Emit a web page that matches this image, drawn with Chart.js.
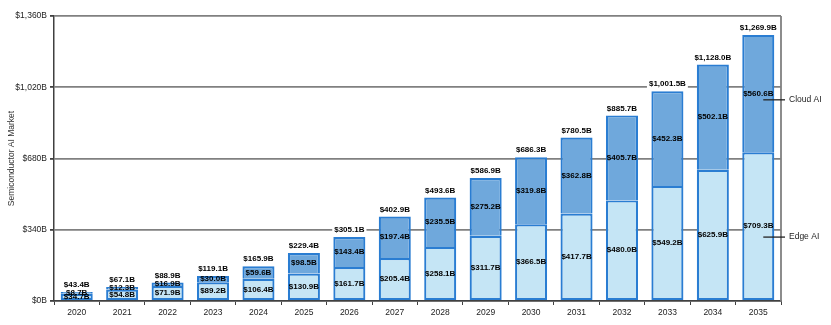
<!DOCTYPE html>
<html>
<head>
<meta charset="utf-8">
<script src="https://cdn.jsdelivr.net/npm/chart.js@4"></script>
<style>
  html, body { margin: 0; padding: 0; background: #fff; }
  #wrap { width: 831px; height: 325px; position: relative; }
</style>
</head>
<body>
<div id="wrap"><canvas id="marketChart"></canvas></div>
<script>
const years = ["2020", "2021", "2022", "2023", "2024", "2025", "2026", "2027",
               "2028", "2029", "2030", "2031", "2032", "2033", "2034", "2035"];
const edgeAI = [34.7, 54.8, 71.9, 89.2, 106.4, 130.9, 161.7, 205.4,
                258.1, 311.7, 366.5, 417.7, 480.0, 549.2, 625.9, 709.3];
const cloudAI = [8.7, 12.3, 16.9, 30.0, 59.6, 98.5, 143.4, 197.4,
                 235.5, 275.2, 319.8, 362.8, 405.7, 452.3, 502.1, 560.6];
const totals = [43.4, 67.1, 88.9, 119.1, 165.9, 229.4, 305.1, 402.9,
                493.6, 586.9, 686.3, 780.5, 885.7, 1001.5, 1128.0, 1269.9];
const yTicks = [0, 340, 680, 1020, 1360];

function money(v) {
    return "$" + v.toLocaleString("en-US", { minimumFractionDigits: 1, maximumFractionDigits: 1 }) + "B";
}

// segment values, totals above bars, right-side series labels, frame
const labelPlugin = {
    id: "labelPlugin",
    afterDatasetsDraw(chart) {
        const ctx = chart.ctx;
        const area = chart.chartArea;
        const yScale = chart.scales.y;
        ctx.save();

        // right edge of the frame
        ctx.strokeStyle = "#808080";
        ctx.lineWidth = 1.8;
        ctx.beginPath();
        ctx.moveTo(area.right, area.top);
        ctx.lineTo(area.right, area.bottom);
        ctx.stroke();

        ctx.font = "bold 8px 'Liberation Sans', Arial, sans-serif";
        ctx.fillStyle = "#000";
        ctx.textAlign = "center";
        ctx.textBaseline = "middle";
        chart.data.datasets.forEach((ds, i) => {
            chart.getDatasetMeta(i).data.forEach((bar, j) => {
                ctx.fillText(money(ds.data[j]), bar.x, (bar.y + bar.base) / 2);
            });
        });

        const top = chart.getDatasetMeta(1).data;
        top.forEach((bar, j) => {
            const txt = money(totals[j]);
            const w = ctx.measureText(txt).width;
            const cy = bar.y - 7;
            ctx.fillStyle = "#fff";
            ctx.fillRect(bar.x - w / 2 - 2, cy - 5, w + 4, 10);
            ctx.fillStyle = "#000";
            ctx.fillText(txt, bar.x, cy);
        });

        // series names beside the last bar
        const last = top[top.length - 1];
        const names = [["Cloud AI", 960], ["Edge AI", 305]];
        ctx.font = "8.5px 'Liberation Sans', Arial, sans-serif";
        ctx.textAlign = "left";
        names.forEach(([name, v]) => {
            const y = yScale.getPixelForValue(v);
            ctx.strokeStyle = "#222";
            ctx.lineWidth = 1.3;
            ctx.beginPath();
            ctx.moveTo(last.x + 5, y);
            ctx.lineTo(area.right + 4, y);
            ctx.stroke();
            ctx.fillStyle = "#222";
            ctx.fillText(name, area.right + 8, y);
        });
        ctx.restore();
    }
};

const ctx = document.getElementById("marketChart").getContext("2d");
new Chart(ctx, {
    type: "bar",
    data: {
        labels: years,
        datasets: [
            {
                label: "Edge AI",
                data: edgeAI,
                backgroundColor: "#c5e5f5",
                borderColor: "#2a7dd2",
                borderWidth: 2.2,
                borderSkipped: false
            },
            {
                label: "Cloud AI",
                data: cloudAI,
                backgroundColor: "#6fa8dc",
                borderColor: "#2a7dd2",
                borderWidth: 2.2,
                borderSkipped: "bottom"
            }
        ]
    },
    options: {
        responsive: true,
        maintainAspectRatio: false,
        animation: false,
        layout: { padding: { top: 16, right: 50, left: 0, bottom: 0 } },
        plugins: {
            legend: { display: false },
            tooltip: { enabled: false }
        },
        datasets: { bar: { categoryPercentage: 0.72, barPercentage: 0.98 } },
        scales: {
            x: {
                stacked: true,
                afterFit: s => { s.height = 24; },
                grid: { display: true, drawOnChartArea: false, tickLength: 4, color: "#404040", lineWidth: 1 },
                border: { color: "#404040", width: 1.5 },
                ticks: { color: "#222", padding: 3, font: { family: "'Liberation Sans', Arial, sans-serif", size: 8.5 } }
            },
            y: {
                stacked: true,
                min: 0,
                max: 1360,
                afterFit: s => { s.width = 54; },
                afterBuildTicks: s => { s.ticks = yTicks.map(v => ({ value: v })); },
                grid: { color: "#808080", lineWidth: 1.8, tickLength: 4, tickColor: "#404040" },
                border: { color: "#404040", width: 1.5 },
                title: {
                    display: true,
                    text: "Semiconductor AI Market",
                    color: "#333",
                    padding: { top: 7, bottom: 0 },
                    font: { family: "'Liberation Sans', Arial, sans-serif", size: 8.5 }
                },
                ticks: {
                    color: "#222",
                    padding: 3,
                    font: { family: "'Liberation Sans', Arial, sans-serif", size: 8.5 },
                    callback: v => "$" + v.toLocaleString("en-US") + "B"
                }
            }
        }
    },
    plugins: [labelPlugin]
});
</script>
</body>
</html>
